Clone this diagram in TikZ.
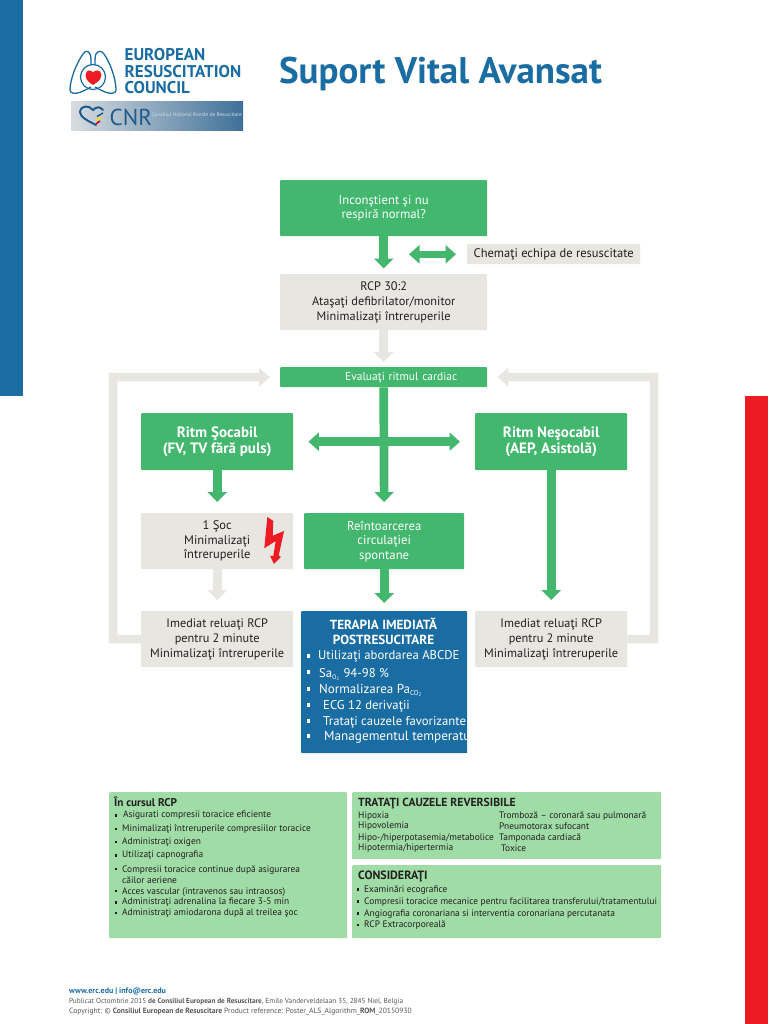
\documentclass[tikz,border=0pt]{standalone}
\usepackage{fontspec}
\setmainfont{PT Sans}
\usetikzlibrary{arrows.meta,calc}
\definecolor{ercblue}{HTML}{1A6DA3}
\definecolor{ercred}{HTML}{ED1C24}
\definecolor{ercgreen}{HTML}{43B76E}
\definecolor{ercgray}{HTML}{E8E6E1}
\definecolor{erclight}{HTML}{9FDCA6}
\definecolor{erctext}{HTML}{231F20}
\definecolor{bannerl}{HTML}{D8DCE0}
\definecolor{bannerm}{HTML}{86A3BD}
\definecolor{bannerr}{HTML}{3F7099}
\definecolor{bannerd}{HTML}{1F5A8C}
\tikzset{
  greenbox/.style={fill=ercgreen,rounded corners=0.8pt,text=white,align=center,inner sep=0pt,anchor=north west,font=\fontsize{12.7}{14.5}\selectfont},
  graybox/.style={fill=ercgray,rounded corners=0.8pt,text=erctext,align=center,inner sep=0pt,anchor=north west,font=\fontsize{12.3}{14.7}\selectfont},
  lightbox/.style={fill=erclight,rounded corners=1pt,inner sep=0pt,anchor=north west},
  fatgreen/.style={draw=ercgreen,line width=8.7pt,-{Triangle[length=10pt,width=19pt]}},
  fatgray/.style={draw=ercgray,line width=8.7pt,-{Triangle[length=10pt,width=19pt]}},
  greenboth/.style={draw=ercgreen,line width=#1,{Triangle[length=10.5pt,width=18pt]}-{Triangle[length=10.5pt,width=18pt]}},
  loopline/.style={draw=ercgray,line width=8.5pt,-{Triangle[length=11pt,width=18pt]}},
  tx/.style={anchor=west,inner sep=0pt,yshift=-0.5pt,text=erctext,font=\fontsize{9.4}{10}\selectfont},
  wtx/.style={anchor=west,inner sep=0pt,yshift=-1.5pt,text=white,font=\fontsize{12.7}{13}\selectfont},
  wtitle/.style={anchor=center,inner sep=0pt,text=white,font=\fontsize{13.2}{14}\bfseries\selectfont},
  ftx/.style={anchor=west,inner sep=0pt,text=erctext!75,font=\fontsize{7.25}{8}\selectfont},
  logotx/.style={anchor=west,inner sep=0pt,text=ercblue,font=\fontsize{17}{18}\bfseries\selectfont},
}
\newcommand{\bulk}[3][erctext]{\fill[#1] ({#2-1.3},{#3-1.3}) rectangle ({#2+1.3},{#3+1.3});}
\newcommand{\bulw}[2]{\fill[white] ({#1-1.8},{#2-1.8}) rectangle ({#1+1.8},{#2+1.8});}
\begin{document}
\begin{tikzpicture}[x=1pt,y=-1pt]
\useasboundingbox (0,0) rectangle (768,1024);
\fill[white] (0,0) rectangle (768,1024);
% side bars
\fill[ercblue] (0,0) rectangle (23,396);
\fill[ercred] (745,396) rectangle (768,1024);
% ERC logo
\draw[ercblue,line width=1.3pt,line join=round]
  (91,65) .. controls (91,60) and (91,56) .. (90,54)
  .. controls (88,50) and (85,51) .. (83,54)
  .. controls (76,64) and (70,80) .. (70,90)
  .. controls (70,94) and (76,94) .. (81,92)
  .. controls (84,91) and (87,89) .. (91,87);
\draw[ercblue,line width=1.3pt,line join=round]
  (95,65) .. controls (95,60) and (95,56) .. (96,54)
  .. controls (98,50) and (102,51) .. (104,54)
  .. controls (111,64) and (116,80) .. (116,90)
  .. controls (116,94) and (110,94) .. (105,92)
  .. controls (102,91) and (99,89) .. (95,87);
\draw[ercblue,line width=1.2pt] (93,77) circle (12.5);
\fill[ercred] (93,85) .. controls (87,81.5) and (85.3,78) .. (85.7,74.5)
  .. controls (86.2,69.5) and (91,69.5) .. (93,72.5)
  .. controls (95,69.5) and (100.8,69.5) .. (101.3,74.5)
  .. controls (101.7,78) and (99,81.5) .. (93,85) -- cycle;
\node[logotx] (logo1) at (124.5,55) {EUROPEAN};
\node[logotx] (logo2) at (124.5,72) {RESUSCITATION};
\node[logotx] (logo3) at (124.5,88) {COUNCIL};
% CNR banner
\shade[left color=bannerl,middle color=bannerm,right color=bannerr] (71,102) rectangle (243,131);
\draw[bannerd,line width=2pt,line cap=round] (103,110) .. controls (100,106) and (96,107) .. (93,110)
  .. controls (89,105) and (81,105) .. (80,112) .. controls (80,117) and (88,121) .. (96,125);
\draw[red!80!black,line width=1.5pt] (96,124) -- (100,121);
\draw[yellow!80!orange,line width=1.5pt] (96.5,120.5) -- (101,117);
\draw[bannerd,line width=1.5pt] (97,116.5) -- (103,113);
\node[anchor=west,inner sep=0pt,text=bannerd,font=\fontsize{23}{24}\selectfont] (cnr) at (109.5,117) {CNR};
\node[anchor=west,inner sep=0pt,text=white!80!bannerd,font=\fontsize{5.2}{6}\selectfont] (cnrname) at (152,115) {Consiliul Naţional Român de Resuscitare};
% title
\node[anchor=center,inner sep=0pt,text=ercblue,font=\fontsize{37}{40}\bfseries\selectfont] (title) at (440.5,74) {Suport Vital Avansat};
% flow boxes
\node[greenbox,minimum width=207pt,minimum height=56pt] (start) at (280,180) {Inconştient şi nu\\respiră normal?};
\node[graybox,minimum width=173pt,minimum height=20pt,font=\fontsize{12.5}{14}\selectfont] (call) at (467,244) {Chemaţi echipa de resuscitate};
\node[graybox,minimum width=207pt,minimum height=56pt] (rcp) at (280,274) {RCP 30:2\\Ataşaţi defibrilator/monitor\\Minimalizaţi întreruperile};
\node[greenbox,minimum width=207pt,minimum height=20pt,text width=207pt,align=left,font=\fontsize{11.5}{13}\selectfont] (eval) at (280,367) {\hspace*{65pt}Evaluaţi ritmul cardiac};
\node[greenbox,minimum width=152pt,minimum height=57pt,font=\fontsize{15}{16}\bfseries\selectfont] (shock) at (141,413) {Ritm Şocabil\\(FV, TV fără puls)};
\node[greenbox,minimum width=152pt,minimum height=57pt,font=\fontsize{15}{16}\bfseries\selectfont] (noshock) at (475,413) {Ritm Neşocabil\\(AEP, Asistolă)};
\node[graybox,minimum width=152pt,minimum height=56pt,font=\fontsize{12.5}{14.5}\selectfont] (soc) at (141,513) {1 Şoc\\Minimalizaţi\\întreruperile};
\node[greenbox,minimum width=160pt,minimum height=56pt] (rosc) at (304,513) {Reîntoarcerea\\circulaţiei\\spontane};
\node[graybox,minimum width=152pt,minimum height=56pt] (cprl) at (141,611) {Imediat reluaţi RCP\\pentru 2 minute\\Minimalizaţi întreruperile};
\node[graybox,minimum width=152pt,minimum height=56pt] (cprr) at (475,611) {Imediat reluaţi RCP\\pentru 2 minute\\Minimalizaţi întreruperile};
\node[fill=ercblue,rounded corners=0.8pt,inner sep=0pt,minimum width=166pt,minimum height=142pt,anchor=north west] (post) at (301,611) {};
% bolt
\fill[ercred] (267.3,517) -- (273.3,521) -- (272.7,535.7) -- (284,531) -- (278.7,555.7) -- (281,556.7) -- (274,564) -- (270,555.7) -- (273.3,556) -- (275.7,541) -- (264.3,548.3) -- cycle;
% connectors
\coordinate (lcorner) at (113,377);
\coordinate (rcorner) at (654,377);
\draw[loopline,shorten >=10pt] (cprl.west) -| (lcorner) -- (eval.west);
\draw[loopline,shorten >=10pt] (cprr.east) -| (rcorner) -- (eval.east);
\draw[fatgreen,shorten >=5.5pt] (start.south) -- (rcp.north);
\coordinate (callstart) at (409,254.3);
\coordinate (callend) at (call.west |- callstart);
\draw[greenboth=7pt,shorten >=11pt] (callstart) -- (callend);
\draw[fatgray,shorten >=5pt] (rcp.south) -- (eval.north);
\draw[fatgreen,shorten >=11pt] (eval.south) -- (rosc.north);
\draw[greenboth=8.7pt,shorten <=15pt,shorten >=15pt] (shock.east) -- (noshock.west);
\draw[fatgreen,shorten >=11pt] (shock.south) -- (soc.north);
\draw[fatgray,shorten >=11pt] (soc.south) -- (cprl.north);
\draw[fatgreen,shorten >=8pt] (rosc.south) -- (post.north);
\draw[fatgreen,shorten >=11pt] (noshock.south) -- (cprr.north);
% post-resuscitation text
\node[wtitle] (p0) at (383.5,624) {TERAPIA IMEDIATĂ};
\node[wtitle] (p1) at (383.5,640) {POSTRESUCITARE};
\node[wtx] (p2) at (318,655) {Utilizaţi abordarea  ABCDE};
\node[wtx] (p3) at (319,673) {Sa\textsubscript{\fontsize{6.5}{6}\selectfont O\textsubscript{2}} 94-98 \%};
\node[wtx,font=\fontsize{13}{13}\selectfont] (p4) at (319,689) {Normalizarea Pa\textsubscript{\fontsize{7}{6}\selectfont CO\textsubscript{2}}};
\node[wtx] (p5) at (323,705) {ECG 12 derivaţii};
\node[wtx] (p6) at (323,721) {Trataţi cauzele favorizante};
\node[wtx,font=\fontsize{13.2}{14}\selectfont] (p7) at (324,736) {Managementul temperatu};
\bulw{308.5}{656}\bulw{308.5}{672}\bulw{308.5}{689}\bulw{308.5}{705}\bulw{308.5}{721}\bulw{308.5}{736}
% lower panels
\node[lightbox,minimum width=238pt,minimum height=146pt] (during) at (109,792) {};
\node[lightbox,minimum width=309pt,minimum height=67pt] (treat) at (352,792) {};
\node[lightbox,minimum width=309pt,minimum height=73pt] (consider) at (352,865) {};
\node[tx,font=\fontsize{11.2}{12}\bfseries\selectfont] (d0) at (114,801) {În cursul RCP};
\node[tx] (d1) at (123,815) {Asigurati compresii toracice eficiente};
\node[tx] (d2) at (122,829) {Minimalizaţi întreruperile compresiilor toracice};
\node[tx] (d3) at (122,842) {Administraţi oxigen};
\node[tx] (d4) at (122,855) {Utilizaţi capnografia};
\node[tx] (d5) at (122,870) {Compresii toracice continue după asigurarea};
\node[tx] (d5b) at (122,880) {căilor aeriene};
\node[tx] (d6) at (122,892) {Acces vascular (intravenos sau intraosos)};
\node[tx] (d7) at (122,902) {Administraţi adrenalina la fiecare 3-5 min};
\node[tx] (d8) at (122,913) {Administraţi amiodarona după al treilea şoc};
\bulk{116}{815.5}\bulk{116}{829}\bulk{116}{842}\bulk{116}{855.5}\bulk{116}{869}\bulk{116}{891}\bulk{116}{902.5}\bulk{116}{913}
\node[tx,font=\fontsize{11.7}{12}\bfseries\selectfont] (t0) at (358,803) {TRATAŢI CAUZELE REVERSIBILE};
\node[tx] (t1) at (358,816) {Hipoxia};
\node[tx] (t2) at (358,826) {Hipovolemia};
\node[tx] (t3) at (358,838) {Hipo-/hiperpotasemia/metabolice};
\node[tx] (t4) at (358,848) {Hipotermia/hipertermia};
\node[tx] (t5) at (499,816) {Tromboză – coronară sau pulmonară};
\node[tx] (t6) at (499,826) {Pneumotorax sufocant};
\node[tx] (t7) at (499,838) {Tamponada cardiacă};
\node[tx] (t8) at (501,848) {Toxice};
\node[tx,font=\fontsize{12}{12}\bfseries\selectfont] (c0) at (358,876) {CONSIDERAŢI};
\node[tx] (c1) at (364,890) {Examinări ecografice};
\node[tx] (c2) at (364,902) {Compresii toracice mecanice pentru facilitarea transferului/tratamentului};
\node[tx] (c3) at (364,914) {Angiografia coronariana si interventia coronariana percutanata};
\node[tx] (c4) at (364,925) {RCP Extracorporeală};
\bulk{358}{889.5}\bulk{358}{901.5}\bulk{358}{913.5}\bulk{358}{925}
% footer
\node[ftx,text=ercblue,font=\fontsize{8}{10}\bfseries\selectfont] (f1) at (69,991) {www.erc.edu | info@erc.edu};
\node[ftx] (f2) at (69,1002) {Publicat Octombrie 2015 \textbf{de Consiliul European de Resuscitare}, Emile Vanderveldelaan 35, 2845 Niel, Belgia};
\node[ftx,font=\fontsize{7.6}{8}\selectfont] (f3) at (69,1012) {Copyright: © \textbf{Consiliul European de Resuscitare}  Product reference: Poster\_ALS\_Algorithm\_\textbf{ROM}\_20150930};
\end{tikzpicture}
\end{document}
